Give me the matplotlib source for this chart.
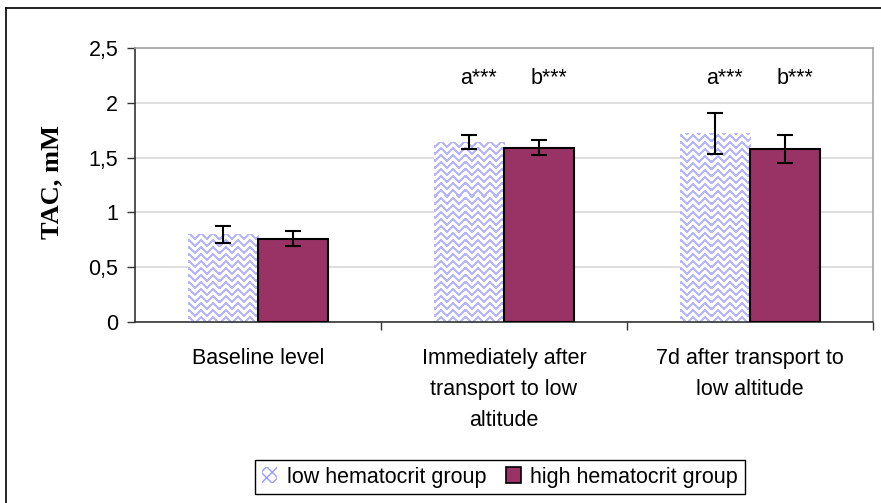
import numpy as np
import matplotlib
matplotlib.use("Agg")
import matplotlib.pyplot as plt
from matplotlib.patches import Patch
from matplotlib.lines import Line2D

categories = ["Baseline level",
              "Immediately after\ntransport to low\naltitude",
              "7d after transport to\nlow altitude"]
low_vals = [0.80, 1.645, 1.72]
low_err = [0.08, 0.065, 0.19]
high_vals = [0.76, 1.59, 1.58]
high_err = [0.07, 0.07, 0.13]
low_annot = ["", "a***", "a***"]
high_annot = ["", "b***", "b***"]
yticks = [0, 0.5, 1, 1.5, 2, 2.5]
ytick_labels = ["0", "0,5", "1", "1,5", "2", "2,5"]
series_names = ["low hematocrit group", "high hematocrit group"]

FW, FH = 881, 503
fig = plt.figure(figsize=(FW / 100, FH / 100), dpi=100)
fig.patch.set_facecolor("white")
L, R, T, B = 135, 873, 48, 322
ax = fig.add_axes([L / FW, 1 - B / FH, (R - L) / FW, (B - T) / FH])

font = "Liberation Sans"
fs = 15.5
x = np.arange(len(categories))
w = 0.285
XL, YL = (-0.5, 2.5), (0, 2.5)

# texture for the low group (chevron pattern)
Wp, Hp = R - L, B - T
yy, xx = np.mgrid[0:Hp, 0:Wp]
u = xx % 12
tri = np.minimum(u, 11 - u)
mask = ((yy + tri) % 7) < 3
tex = np.ones((Hp, Wp, 3))
tex[mask] = np.array([0.72, 0.72, 1.0])

low_bars = ax.bar(x - w / 2, low_vals, w, color="white", edgecolor="none", zorder=2)
for bar in low_bars:
    im = ax.imshow(tex, extent=(XL[0], XL[1], YL[0], YL[1]), aspect="auto",
                   interpolation="nearest", interpolation_stage="rgba",
                   zorder=2.1, origin="upper")
    im.set_clip_path(bar)
ax.bar(x + w / 2, high_vals, w, color="#993366", edgecolor="black", linewidth=1.5, zorder=3)

ax.errorbar(x - w / 2, low_vals, yerr=low_err, fmt="none", ecolor="black",
            elinewidth=1.5, capsize=5.5, capthick=1.5, zorder=4)
ax.errorbar(x + w / 2, high_vals, yerr=high_err, fmt="none", ecolor="black",
            elinewidth=1.5, capsize=5.5, capthick=1.5, zorder=4)

for i in range(len(categories)):
    if low_annot[i]:
        ax.text(x[i] - w / 2 + 0.04, 2.22, low_annot[i], ha="center", va="center",
                fontsize=fs, family=font)
    if high_annot[i]:
        ax.text(x[i] + w / 2 + 0.04, 2.22, high_annot[i], ha="center", va="center",
                fontsize=fs, family=font)

ax.set_xlim(*XL)
ax.set_ylim(*YL)
ax.set_yticks(yticks)
ax.set_yticklabels(ytick_labels, fontsize=fs, family=font)
ax.set_xticks(x)
ax.set_xticklabels(categories, fontsize=fs, family=font, linespacing=1.6)
ax.set_xticks([0.5, 1.5, 2.5], minor=True)
ax.tick_params(axis="x", which="major", length=0, pad=19)
ax.tick_params(axis="x", which="minor", length=6, width=1, color="#333333")
ax.tick_params(axis="y", length=6, width=1, pad=6, color="#333333")
ax.grid(axis="y", color="#D9D9D9", linewidth=1.2, zorder=0)
ax.set_axisbelow(True)
for s in ["top", "right"]:
    ax.spines[s].set_color("#A6A6A6")
    ax.spines[s].set_linewidth(1.2)
for s in ["left", "bottom"]:
    ax.spines[s].set_color("#333333")
    ax.spines[s].set_linewidth(1.2)

fig.text(52 / FW, 1 - 182 / FH, "TAC, mM", rotation=90, ha="center", va="center",
         fontsize=19, fontweight="bold", family="Liberation Serif")

handles = [Patch(facecolor="white", edgecolor="#9999FF", hatch="xxx", linewidth=0),
           Patch(facecolor="#993366", edgecolor="black", linewidth=1.2)]
leg = fig.legend(handles, series_names, loc="center", bbox_to_anchor=(500 / FW, 1 - 477 / FH),
                 ncol=2, prop={"family": font, "size": fs}, frameon=True, fancybox=False,
                 edgecolor="black", framealpha=1, handlelength=0.7, handleheight=0.7,
                 handletextpad=0.45, columnspacing=0.9, borderpad=0.3, borderaxespad=0)
leg.get_frame().set_linewidth(1.0)

# outer border
fig.add_artist(Line2D([6 / FW, 6 / FW], [0, 1 - 8 / FH], color="black", lw=1.2))
fig.add_artist(Line2D([6 / FW, 1], [1 - 8 / FH, 1 - 8 / FH], color="black", lw=1.2))

fig.savefig("out.png", dpi=100)
